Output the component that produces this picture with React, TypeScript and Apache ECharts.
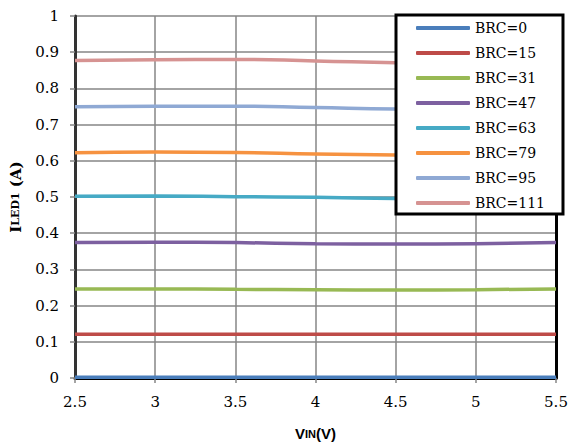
import React, { useEffect, useRef } from "react";
import * as echarts from "echarts";

const vin = [2.5, 3, 3.5, 4, 4.5, 5, 5.5];
const seriesNames = ["BRC=0", "BRC=15", "BRC=31", "BRC=47", "BRC=63", "BRC=79", "BRC=95", "BRC=111"];
const brc0 = [0.002, 0.002, 0.002, 0.002, 0.002, 0.002, 0.002];
const brc15 = [0.121, 0.121, 0.121, 0.121, 0.121, 0.121, 0.121];
const brc31 = [0.246, 0.246, 0.245, 0.244, 0.243, 0.244, 0.246];
const brc47 = [0.374, 0.375, 0.374, 0.371, 0.37, 0.371, 0.374];
const brc63 = [0.502, 0.503, 0.501, 0.499, 0.496, 0.495, 0.497];
const brc79 = [0.622, 0.624, 0.623, 0.619, 0.616, 0.615, 0.617];
const brc95 = [0.749, 0.751, 0.751, 0.747, 0.743, 0.742, 0.744];
const brc111 = [0.877, 0.879, 0.88, 0.876, 0.871, 0.869, 0.871];
const allValues = [brc0, brc15, brc31, brc47, brc63, brc79, brc95, brc111];
const colors = ["#4a7ebb", "#be4b48", "#98b954", "#7d60a0", "#46aac5", "#f69240", "#8fa9d4", "#d69392"];

export default function App() {
  const ref = useRef<HTMLDivElement>(null);
  useEffect(() => {
    if (!ref.current) return;
    document.body.style.margin = "0";
    const chart = echarts.init(ref.current, undefined, { renderer: "svg" });
    const serif = "DejaVu Serif";
    chart.setOption({
      animation: false,
      backgroundColor: "#ffffff",
      grid: { left: 74, right: 15, top: 16, bottom: 67 },
      legend: {
        orient: "vertical",
        left: 396,
        top: 15,
        padding: [5, 18, 3, 20],
        backgroundColor: "#ffffff",
        borderColor: "#000000",
        borderWidth: 3,
        itemWidth: 54,
        itemHeight: 4,
        itemGap: 9,
        icon: "roundRect",
        textStyle: { fontFamily: serif, fontSize: 14, color: "#000", lineHeight: 16 },
        data: seriesNames,
      },
      xAxis: [
        {
          type: "value",
          min: 2.5,
          max: 5.5,
          interval: 0.5,
          name: "{v|V}{s|IN}{v|(V)}",
          nameLocation: "middle",
          nameGap: 48,
          nameTextStyle: {
            rich: {
              v: { fontFamily: "Liberation Sans", fontWeight: "bold", fontSize: 15, color: "#000" },
              s: { fontFamily: "Liberation Sans", fontWeight: "bold", fontSize: 11, color: "#000" },
            },
          },
          axisLine: { show: true, lineStyle: { color: "#868686", width: 2 } },
          axisTick: { show: true, length: 5, lineStyle: { color: "#868686", width: 1.5 } },
          axisLabel: { margin: 16, fontFamily: serif, fontSize: 15, color: "#000" },
          splitLine: { show: true, lineStyle: { color: "#868686", width: 1.5 } },
        },
        {
          type: "value",
          position: "top",
          min: 2.5,
          max: 5.5,
          interval: 0.5,
          axisLine: { show: true, lineStyle: { color: "#000", width: 3 } },
          axisTick: { show: false },
          axisLabel: { show: false },
          splitLine: { show: false },
        },
      ],
      yAxis: [
        {
          type: "value",
          min: 0,
          max: 1,
          interval: 0.1,
          name: "{i|I}{s|LED1}{i| (A)}",
          nameLocation: "middle",
          nameGap: 52,
          nameRotate: 90,
          nameTextStyle: {
            rich: {
              i: { fontFamily: serif, fontWeight: "bold", fontSize: 15, color: "#000" },
              s: { fontFamily: serif, fontWeight: "bold", fontSize: 11, color: "#000" },
            },
          },
          axisLine: { show: true, lineStyle: { color: "#333", width: 3 } },
          axisTick: { show: true, length: 5, lineStyle: { color: "#868686", width: 1.5 } },
          axisLabel: { margin: 16, fontFamily: serif, fontSize: 15, color: "#000" },
          splitLine: { show: true, lineStyle: { color: "#868686", width: 1.5 } },
        },
        {
          type: "value",
          position: "right",
          min: 0,
          max: 1,
          interval: 0.1,
          axisLine: { show: true, lineStyle: { color: "#000", width: 3 } },
          axisTick: { show: false },
          axisLabel: { show: false },
          splitLine: { show: false },
        },
      ],
      series: seriesNames.map((name, i) => ({
        name,
        type: "line",
        smooth: true,
        showSymbol: false,
        symbol: "none",
        color: colors[i],
        lineStyle: { color: colors[i], width: 3.5 },
        data: vin.map((x, j) => [x, allValues[i][j]]),
      })),
    });
    return () => chart.dispose();
  }, []);
  return <div ref={ref} style={{ width: 571, height: 446 }} />;
}
